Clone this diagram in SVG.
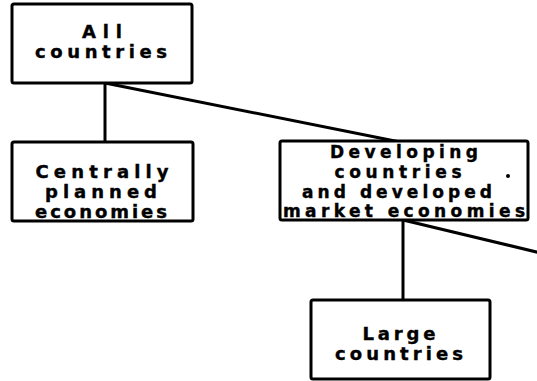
<svg xmlns="http://www.w3.org/2000/svg" width="537" height="381" viewBox="0 0 537 381">
<style>
.box{fill:#fff;stroke:#000;stroke-width:3;}
.t{font-family:"DejaVu Sans","Liberation Sans",sans-serif;font-weight:bold;font-size:18px;fill:#000;stroke:#000;stroke-width:0.4;text-anchor:middle;}
.s{font-size:17px;}
.ln{stroke:#000;stroke-width:3;fill:none;stroke-linecap:round;}
</style>
<rect width="537" height="381" fill="#fff"/>
<g id="connectors">
<line class="ln" x1="105" y1="83" x2="105" y2="142"/>
<line class="ln" x1="105" y1="83" x2="400" y2="142"/>
<line class="ln" x1="403" y1="220" x2="403" y2="300"/>
<line class="ln" x1="403" y1="220" x2="545" y2="254"/>
</g>
<g id="all-countries">
<rect class="box" x="12" y="4" width="180" height="79" rx="2"/>
<text class="t" x="102" y="38" textLength="40" lengthAdjust="spacing">All</text>
<text class="t" x="101" y="58" textLength="132" lengthAdjust="spacing">countries</text>
</g>
<g id="centrally-planned">
<rect class="box" x="12" y="142" width="181" height="79" rx="2"/>
<text class="t" x="102" y="178" textLength="133" lengthAdjust="spacing">Centrally</text>
<text class="t" x="101" y="198" textLength="112" lengthAdjust="spacing">planned</text>
<text class="t" x="101" y="218" textLength="132" lengthAdjust="spacing">economies</text>
</g>
<g id="developing-developed">
<rect class="box" x="280" y="141" width="248" height="79" rx="2"/>
<text class="t s" x="404" y="158" textLength="148" lengthAdjust="spacing">Developing</text>
<text class="t s" x="398" y="178" textLength="127" lengthAdjust="spacing">countries</text>
<circle cx="508" cy="176" r="2" fill="#000"/>
<text class="t s" x="397" y="198" textLength="190" lengthAdjust="spacing">and developed</text>
<text class="t s" x="404" y="217" textLength="242" lengthAdjust="spacing">market economies</text>
</g>
<g id="large-countries">
<rect class="box" x="311" y="300" width="179" height="79" rx="2"/>
<text class="t" x="399" y="340" textLength="73" lengthAdjust="spacing">Large</text>
<text class="t" x="399" y="360" textLength="128" lengthAdjust="spacing">countries</text>
</g>
</svg>
